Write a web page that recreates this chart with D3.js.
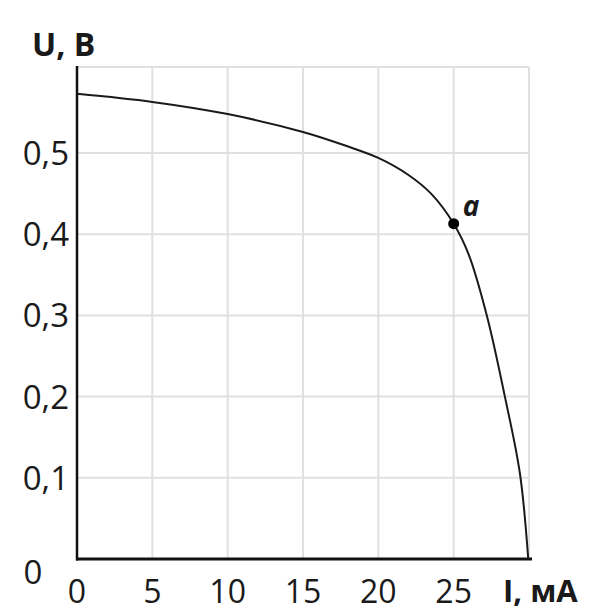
<!DOCTYPE html>
<html><head><meta charset="utf-8">
<script src="https://cdn.jsdelivr.net/npm/d3@7"></script>
<style>
html,body{margin:0;padding:0;background:#fff;}
svg{display:block;}
text{font-family:"Open Sans","DejaVu Sans",sans-serif;fill:#1a1a1a;}
</style></head>
<body>
<svg id="chart" width="589" height="614"></svg>
<script>
// Data (current I in mA, voltage U in V)
const currentI = [0, 5, 10, 15, 18, 20, 22, 23.5, 25, 26, 27.2, 28.4, 29.4, 29.95];
const voltageU = [0.573, 0.563, 0.548, 0.526, 0.508, 0.494, 0.473, 0.450, 0.413, 0.375, 0.300, 0.200, 0.105, 0.0];
const xTicks = [0, 5, 10, 15, 20, 25];
const yTicks = [0.1, 0.2, 0.3, 0.4, 0.5];
const pointA = {I: 25, U: 0.413, label: "a"};
const xAxisTitle = "I, мА";
const yAxisTitle = "U, В";

const svg = d3.select("#chart");
const mLeft = 77, mRight = 529, mTop = 67, mBottom = 559;
const xMax = 30, yMax = 0.606;
const x = d3.scaleLinear().domain([0, xMax]).range([mLeft, mRight]);
const y = d3.scaleLinear().domain([0, yMax]).range([mBottom, mTop]);

// grid
const g = svg.append("g");
g.selectAll(".vg").data(xTicks.filter(d => d > 0).concat([xMax])).enter().append("line")
  .attr("x1", d => x(d)).attr("x2", d => x(d)).attr("y1", mTop).attr("y2", mBottom)
  .attr("stroke", "#e0e0e0").attr("stroke-width", 2);
g.selectAll(".hg").data(yTicks.concat([yMax])).enter().append("line")
  .attr("x1", mLeft).attr("x2", mRight).attr("y1", d => y(d)).attr("y2", d => y(d))
  .attr("stroke", "#e0e0e0").attr("stroke-width", 2);

// axes lines
svg.append("line").attr("x1", mLeft).attr("x2", mLeft).attr("y1", mTop - 1).attr("y2", mBottom + 1.5)
  .attr("stroke", "#111").attr("stroke-width", 2.5);
svg.append("line").attr("x1", mLeft - 1).attr("x2", mRight + 3).attr("y1", mBottom).attr("y2", mBottom)
  .attr("stroke", "#111").attr("stroke-width", 3);

// curve
const pts = currentI.map((d, i) => [d, voltageU[i]]);
const line = d3.line().x(d => x(d[0])).y(d => y(d[1])).curve(d3.curveCatmullRom.alpha(0.5));
svg.append("path").attr("d", line(pts)).attr("fill", "none")
  .attr("stroke", "#1a1a1a").attr("stroke-width", 2);

// point a
svg.append("circle").attr("cx", x(pointA.I)).attr("cy", y(pointA.U)).attr("r", 5.5).attr("fill", "#000");
svg.append("text").attr("x", x(pointA.I) + 9).attr("y", y(pointA.U) - 8)
  .attr("font-size", 28).attr("font-style", "italic").attr("font-weight", "bold")
  .text(pointA.label);

// tick labels
svg.selectAll(".xl").data(xTicks).enter().append("text")
  .attr("x", d => x(d)).attr("y", 603).attr("text-anchor", "middle")
  .attr("font-size", 32).text(d => d);
svg.selectAll(".yl").data(yTicks).enter().append("text")
  .attr("x", 69).attr("y", d => y(d) + 12).attr("text-anchor", "end")
  .attr("font-size", 33).text(d => String(d).replace(".", ","));
svg.append("text").attr("x", 33).attr("y", 584).attr("text-anchor", "middle")
  .attr("font-size", 33).text("0");

// axis titles
svg.append("text").attr("x", 32).attr("y", 56).attr("font-size", 32).attr("font-weight", "bold").text(yAxisTitle);
svg.append("text").attr("x", 503).attr("y", 602).attr("font-size", 31).attr("font-weight", "bold").text(xAxisTitle);
</script>
</body></html>
